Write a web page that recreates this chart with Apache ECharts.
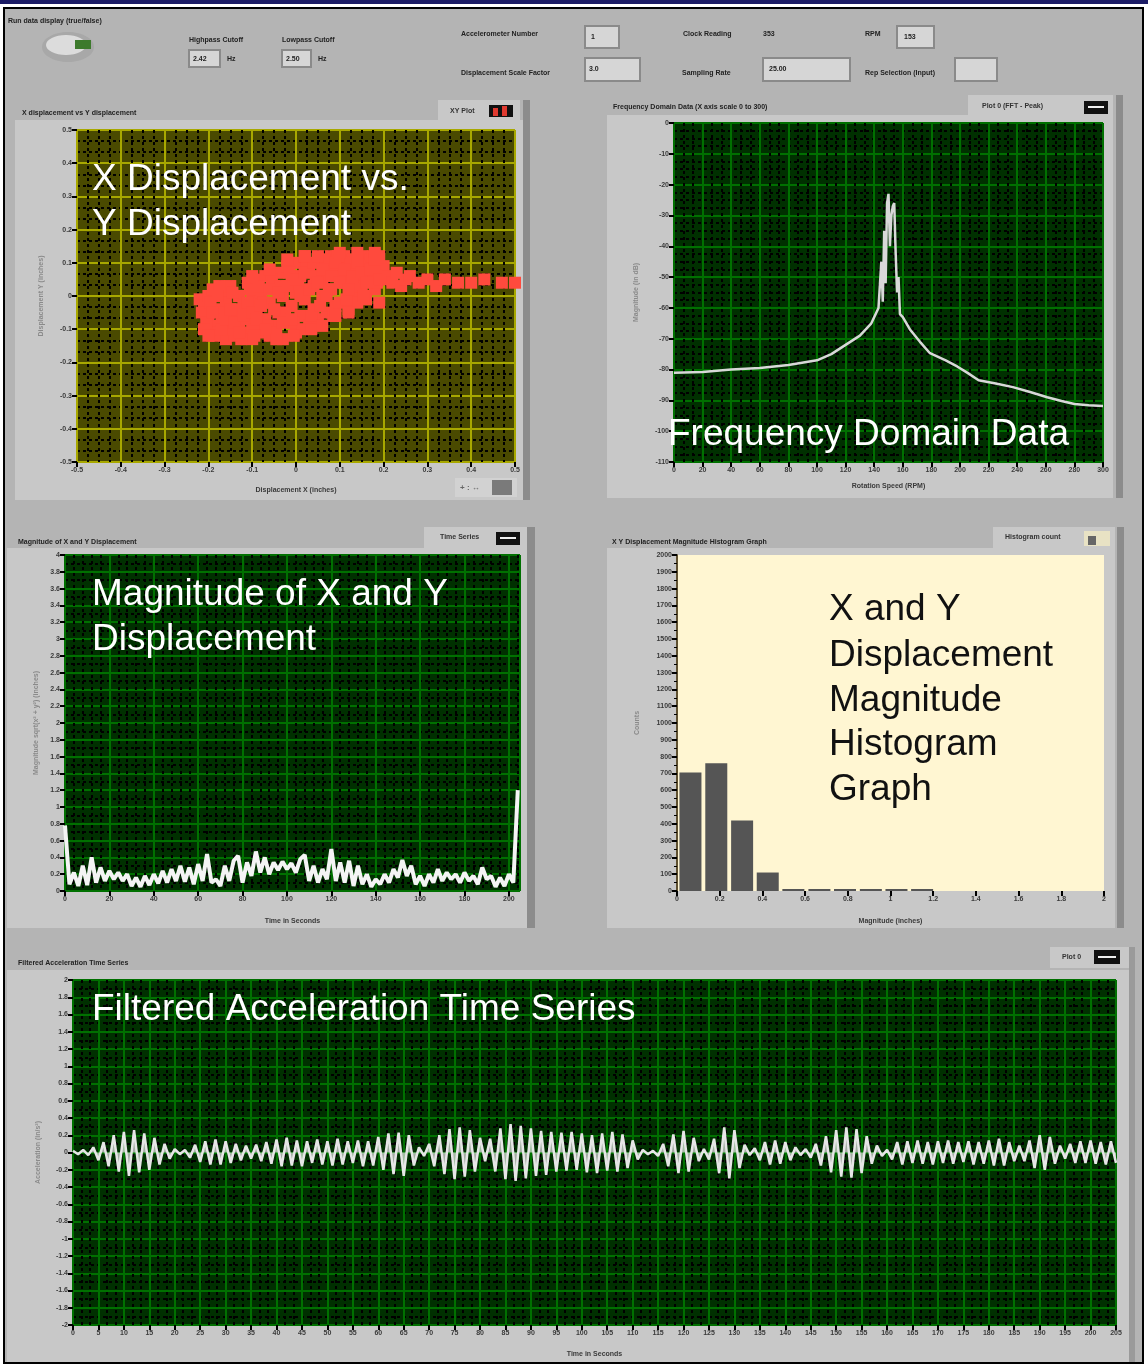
<!DOCTYPE html>
<html>
<head>
<meta charset="utf-8">
<script src="https://cdn.jsdelivr.net/npm/echarts@6/dist/echarts.min.js"></script>
<style>
html, body { margin: 0; padding: 0; background: #fff; }
#chart { width: 1148px; height: 1372px; }
</style>
</head>
<body>
<div id="chart"></div>
<script>
var FONT = '"Liberation Sans", Arial, sans-serif'

// X vs Y displacement (inches)
var xyPoints = [
  [-0.22, -0.01], [-0.21, -0.03], [-0.2, 0.0], [-0.2, -0.06], [-0.19, -0.09], [-0.19, 0.02], [-0.18, -0.04], [-0.18, -0.11],
  [-0.17, -0.07], [-0.17, 0.01], [-0.16, -0.13], [-0.16, -0.02], [-0.15, -0.09], [-0.15, 0.03], [-0.14, -0.05], [-0.14, -0.12],
  [-0.13, 0.0], [-0.13, -0.08], [-0.12, -0.03], [-0.12, -0.11], [-0.11, 0.04], [-0.11, -0.06], [-0.1, -0.13], [-0.1, -0.01],
  [-0.1, -0.09], [-0.09, 0.05], [-0.09, -0.04], [-0.08, -0.11], [-0.08, 0.01], [-0.07, -0.07], [-0.07, 0.06], [-0.06, -0.02],
  [-0.06, -0.12], [-0.05, 0.03], [-0.05, -0.09], [-0.04, 0.07], [-0.04, -0.05], [-0.03, -0.13], [-0.03, 0.0], [-0.02, 0.09],
  [-0.02, -0.08], [-0.01, 0.04], [-0.01, -0.03], [0.0, -0.11], [0.0, 0.1], [0.0, 0.01], [0.01, -0.06], [0.01, 0.06],
  [0.02, 0.12], [0.02, -0.01], [0.03, -0.09], [0.03, 0.08], [0.04, 0.03], [0.04, -0.04], [0.05, 0.11], [0.05, -0.07],
  [0.06, 0.05], [0.06, 0.0], [0.07, 0.09], [0.07, -0.05], [0.08, 0.12], [0.08, 0.02], [0.09, -0.03], [0.09, 0.07],
  [0.1, 0.1], [0.1, -0.02], [0.11, 0.04], [0.11, 0.12], [0.12, -0.04], [0.12, 0.08], [0.13, 0.01], [0.13, 0.11],
  [0.14, 0.06], [0.14, -0.02], [0.15, 0.12], [0.15, 0.03], [0.16, 0.09], [0.16, -0.01], [0.17, 0.05], [0.17, 0.11],
  [0.18, 0.02], [0.18, 0.08], [0.19, 0.12], [0.19, -0.02], [0.2, 0.05], [0.2, 0.09],
  [-0.215, -0.05], [-0.205, -0.08], [-0.195, -0.02], [-0.185, -0.12], [-0.175, 0.03], [-0.165, -0.05], [-0.155, -0.1],
  [-0.145, 0.01], [-0.135, -0.04], [-0.125, -0.13], [-0.115, -0.07], [-0.105, 0.02], [-0.095, -0.1], [-0.085, 0.03],
  [-0.075, -0.02], [-0.065, -0.09], [-0.055, 0.05], [-0.045, -0.11], [-0.035, 0.03], [-0.025, -0.05], [-0.015, 0.07],
  [-0.005, -0.08], [0.005, 0.03], [0.015, -0.1], [0.025, 0.09], [0.035, -0.06], [0.045, 0.06], [0.055, -0.03],
  [0.065, 0.11], [0.075, 0.02], [0.085, -0.06], [0.095, 0.12], [0.105, 0.06], [0.115, -0.01], [0.125, 0.1],
  [0.135, 0.03], [0.145, 0.09], [0.155, 0.0], [0.165, 0.07], [0.175, 0.12], [0.185, 0.04], [0.195, 0.08],
  [-0.21, -0.1], [-0.2, -0.12], [-0.19, -0.05], [-0.18, 0.0], [-0.17, -0.1], [-0.16, -0.07], [-0.15, -0.04],
  [-0.14, -0.08], [-0.13, -0.11], [-0.12, -0.06], [-0.11, -0.02], [-0.1, -0.05], [-0.09, -0.07], [-0.08, -0.03],
  [-0.07, -0.1], [-0.06, 0.02], [-0.05, -0.04], [-0.04, 0.01], [-0.03, -0.08], [-0.02, 0.03], [-0.01, -0.07],
  [0.0, 0.05], [0.01, 0.0], [0.02, 0.07], [0.03, 0.02], [0.04, 0.1], [0.05, 0.04], [0.06, 0.08], [0.07, 0.0],
  [0.08, 0.06], [0.09, 0.1], [0.1, 0.04], [0.11, 0.08], [0.12, 0.02], [0.13, 0.06], [0.14, 0.1], [0.15, 0.07],
  [0.16, 0.04], [0.17, 0.08], [0.18, 0.11], [0.19, 0.05], [-0.095, -0.12], [-0.045, -0.13], [-0.005, -0.12],
  [0.035, -0.1], [0.06, -0.09], [0.09, -0.06], [0.12, -0.05], [-0.1, 0.06], [-0.06, 0.08], [-0.02, 0.11],
  [0.02, 0.12], [0.05, 0.12], [0.1, 0.13], [0.14, 0.13], [0.18, 0.13],
  [0.21, 0.06], [0.22, 0.04], [0.23, 0.07], [0.24, 0.03], [0.25, 0.05], [0.26, 0.06], [0.28, 0.04], [0.3, 0.05],
  [0.32, 0.03], [0.34, 0.05], [0.37, 0.04], [0.4, 0.04], [0.43, 0.05], [0.47, 0.04], [0.5, 0.04]
]

// frequency domain data
var freqRpm = [0, 20, 40, 60, 80, 100, 110, 120, 130, 138,
  143, 144, 145, 146, 147, 148, 149, 150, 151, 152,
  153, 154, 155, 156, 157, 158, 160, 165, 172, 179,
  190, 198, 205, 213, 225, 237, 249, 261, 271, 280, 290, 300]
var freqDb = [-81, -80.8, -80, -79.5, -78.5, -77, -75, -72, -69, -65,
  -60, -60, -45, -58, -35, -52, -26, -23, -40, -30,
  -27, -26, -42, -55, -50, -62, -63, -67, -71, -74.7,
  -77, -79, -81, -83.5, -84.5, -85.7, -87.3, -89, -90.2, -91.2, -91.6, -91.8]

// magnitude of X and Y displacement, one value every 2 s
var magStep = 2
var magDisp = [
  0.78, 0.08, 0.22, 0.06, 0.30, 0.07, 0.40, 0.10, 0.28, 0.12,
  0.24, 0.14, 0.22, 0.12, 0.20, 0.06, 0.16, 0.05, 0.18, 0.07,
  0.20, 0.09, 0.24, 0.10, 0.26, 0.12, 0.30, 0.11, 0.28, 0.08,
  0.32, 0.12, 0.44, 0.10, 0.14, 0.06, 0.30, 0.12, 0.36, 0.42,
  0.10, 0.34, 0.18, 0.47, 0.22, 0.40, 0.20, 0.34, 0.25, 0.35,
  0.26, 0.33, 0.22, 0.38, 0.43, 0.12, 0.30, 0.10, 0.26, 0.14,
  0.50, 0.12, 0.34, 0.10, 0.36, 0.06, 0.30, 0.08, 0.20, 0.05,
  0.14, 0.08, 0.20, 0.10, 0.26, 0.16, 0.37, 0.18, 0.30, 0.08,
  0.18, 0.06, 0.20, 0.10, 0.26, 0.12, 0.22, 0.14, 0.20, 0.10,
  0.22, 0.12, 0.18, 0.08, 0.28, 0.14, 0.18, 0.05, 0.16, 0.06,
  0.20, 0.10, 1.20
]

// histogram of magnitude
var histBins = [0.063, 0.184, 0.305, 0.425, 0.545, 0.667, 0.787, 0.908, 1.028, 1.148]
var histCounts = [706, 760, 420, 110, 12, 12, 12, 12, 12, 12]

// filtered acceleration, one value per second
var accel = [
  0.02, -0.02, 0.03, -0.03, 0.06, -0.09, 0.12, -0.16, 0.20, -0.22,
  0.24, -0.27, 0.26, -0.23, 0.22, -0.20, 0.17, -0.14, 0.10, -0.07,
  0.04, -0.02, 0.03, -0.06, 0.09, -0.11, 0.13, -0.14, 0.15, -0.14,
  0.13, -0.12, 0.10, -0.09, 0.08, -0.07, 0.09, -0.10, 0.12, -0.13,
  0.15, -0.16, 0.17, -0.15, 0.14, -0.16, 0.13, -0.12, 0.15, -0.14,
  0.13, -0.15, 0.16, -0.14, 0.13, -0.12, 0.14, -0.16, 0.13, -0.15,
  0.18, -0.20, 0.22, -0.25, 0.23, -0.27, 0.20, -0.15, 0.06, -0.04,
  0.10, -0.16, 0.20, -0.25, 0.27, -0.31, 0.29, -0.28, 0.26, -0.22,
  0.17, -0.10, 0.16, -0.22, 0.28, -0.31, 0.33, -0.33, 0.31, -0.30,
  0.28, -0.27, 0.25, -0.26, 0.24, -0.22, 0.23, -0.21, 0.24, -0.20,
  0.22, -0.23, 0.20, -0.24, 0.22, -0.21, 0.24, -0.22, 0.21, -0.18,
  0.14, -0.08, 0.03, -0.02, 0.02, -0.04, 0.10, -0.16, 0.21, -0.24,
  0.25, -0.22, 0.17, -0.10, 0.04, -0.08, 0.16, -0.24, 0.29, -0.30,
  0.26, -0.18, 0.09, -0.03, 0.05, -0.09, 0.12, -0.14, 0.14, -0.13,
  0.12, -0.09, 0.06, -0.03, 0.04, -0.06, 0.10, -0.15, 0.19, -0.23,
  0.26, -0.28, 0.29, -0.29, 0.27, -0.24, 0.19, -0.13, 0.08, -0.04,
  0.03, -0.08, 0.12, -0.14, 0.13, -0.12, 0.14, -0.13, 0.12, -0.14,
  0.13, -0.12, 0.14, -0.13, 0.12, -0.11, 0.13, -0.14, 0.12, -0.13,
  0.14, -0.15, 0.16, -0.15, 0.12, -0.10, 0.08, -0.10, 0.14, -0.18,
  0.20, -0.20, 0.18, -0.13, 0.08, -0.07, 0.10, -0.12, 0.13, -0.12,
  0.14, -0.13, 0.12, -0.14, 0.13, -0.12
]

function axis(o) {
  return {
    type: 'value', gridIndex: o.grid, min: o.min, max: o.max, interval: o.interval,
    name: o.name, nameLocation: 'middle', nameGap: o.gap,
    nameTextStyle: { color: o.nameColor || '#3a3a3a', fontSize: 7, fontWeight: 'bold', fontFamily: FONT },
    axisLine: { show: !!o.line, onZero: false, lineStyle: { color: o.line || '#000', width: 2 } },
    axisTick: { show: true, length: 5, lineStyle: { color: '#000', width: 2 } },
    minorTick: { show: !!o.minorTick, splitNumber: o.minor || 2, length: 3, lineStyle: { color: '#000', width: 1 } },
    axisLabel: {
      color: '#3a3a3a', fontSize: 7, fontWeight: 'bold', fontFamily: FONT, margin: 5,
      formatter: function (v) { return String(Math.round(v * 100) / 100) }
    },
    splitLine: { show: !!o.major, lineStyle: { color: o.major, width: 2 } },
    minorSplitLine: { show: !!o.dots, lineStyle: { color: '#000', width: 2, type: [3, 3] } }
  }
}

function box(x, y, w, h, fill, stroke, z) {
  return {
    type: 'rect', silent: true, z: z == null ? -10 : z,
    shape: { x: x, y: y, width: w, height: h },
    style: { fill: fill, stroke: stroke || null, lineWidth: stroke ? 2 : 0 }
  }
}

function txt(x, y, str, size, color, weight, z) {
  return {
    type: 'text', silent: true, z: z == null ? 5 : z, x: x, y: y,
    style: {
      text: str, fill: color, font: (weight || 'bold') + ' ' + size + 'px ' + FONT,
      textAlign: 'left', textVerticalAlign: 'middle', verticalAlign: 'middle'
    }
  }
}

function big(x, y, str, color) {
  return txt(x, y, str, 37, color, 'normal', 100)
}

var graphics = [
  box(0, 0, 1148, 1372, '#ffffff', null, -30),
  box(0, 0, 1148, 4, '#1c1c66', null, -20),
  box(4, 8, 1139, 1355, '#b4b4b4', '#000000', -20),

  // top controls
  txt(8, 21, 'Run data display (true/false)', 7, '#222'),
  { type: 'ellipse', silent: true, z: -5, shape: { cx: 68, cy: 47, rx: 26, ry: 15 }, style: { fill: '#a8a8a8' } },
  { type: 'ellipse', silent: true, z: -4, shape: { cx: 66, cy: 45, rx: 20, ry: 10 }, style: { fill: '#dcdcdc' } },
  box(75, 40, 16, 9, '#3d7a2c', null, -3),
  txt(189, 40, 'Highpass Cutoff', 7, '#222'),
  box(189, 50, 31, 17, '#d6d6d6', '#8a8a8a', -5), txt(193, 59, '2.42', 7, '#222'), txt(227, 59, 'Hz', 7, '#222'),
  txt(282, 40, 'Lowpass Cutoff', 7, '#222'),
  box(282, 50, 29, 17, '#d6d6d6', '#8a8a8a', -5), txt(286, 59, '2.50', 7, '#222'), txt(318, 59, 'Hz', 7, '#222'),
  txt(461, 34, 'Accelerometer Number', 7, '#222'),
  box(585, 26, 34, 22, '#d6d6d6', '#8a8a8a', -5), txt(591, 37, '1', 7, '#222'),
  txt(683, 34, 'Clock Reading', 7, '#222'), txt(763, 34, '353', 7, '#222'),
  txt(865, 34, 'RPM', 7, '#222'),
  box(897, 26, 37, 22, '#d6d6d6', '#8a8a8a', -5), txt(904, 37, '153', 7, '#222'),
  txt(461, 73, 'Displacement Scale Factor', 7, '#222'),
  box(585, 58, 55, 23, '#d6d6d6', '#8a8a8a', -5), txt(589, 69, '3.0', 7, '#222'),
  txt(682, 73, 'Sampling Rate', 7, '#222'),
  box(763, 58, 87, 23, '#d6d6d6', '#8a8a8a', -5), txt(769, 69, '25.00', 7, '#222'),
  txt(865, 73, 'Rep Selection (Input)', 7, '#222'),
  box(955, 58, 42, 23, '#d6d6d6', '#8a8a8a', -5),

  // panel 1 frame
  txt(22, 113, 'X displacement vs Y displacement', 7, '#222'),
  box(15, 120, 508, 380, '#c8c8c8'),
  box(438, 100, 82, 22, '#c8c8c8'),
  box(523, 100, 7, 400, '#8c8c8c'),
  txt(450, 111, 'XY Plot', 7, '#333'),
  box(489, 105, 24, 12, '#111', null, -5), box(493, 108, 5, 8, '#e03a30', null, -4), box(502, 106, 5, 10, '#e03a30', null, -4),
  box(455, 478, 62, 19, '#d2d2d2', null, -5), txt(460, 488, '+ : ↔', 8, '#666'), box(492, 480, 20, 15, '#7a7a7a', null, -4),

  // panel 2 frame
  txt(613, 107, 'Frequency Domain Data (X axis scale 0 to 300)', 7, '#222'),
  box(607, 115, 506, 383, '#c8c8c8'),
  box(968, 95, 145, 22, '#c8c8c8'),
  box(1116, 95, 7, 403, '#8c8c8c'),
  txt(982, 106, 'Plot 0 (FFT - Peak)', 7, '#333'),
  box(1084, 101, 24, 13, '#111', null, -5), box(1088, 106, 16, 2, '#eee', null, -4),

  // panel 3 frame
  txt(18, 542, 'Magnitude of X and Y Displacement', 7, '#222'),
  box(7, 548, 520, 380, '#c8c8c8'),
  box(424, 527, 103, 21, '#c8c8c8'),
  box(527, 527, 8, 401, '#8c8c8c'),
  txt(440, 537, 'Time Series', 7, '#333'),
  box(496, 532, 24, 13, '#111', null, -5), box(500, 537, 16, 2, '#eee', null, -4),

  // panel 4 frame
  txt(612, 542, 'X Y Displacement Magnitude Histogram Graph', 7, '#222'),
  box(607, 548, 508, 380, '#c8c8c8'),
  box(993, 527, 122, 21, '#c8c8c8'),
  box(1117, 527, 7, 401, '#8c8c8c'),
  txt(1005, 537, 'Histogram count', 7, '#333'),
  box(1084, 531, 26, 15, '#e8e2c4', null, -5), box(1088, 536, 8, 9, '#666', null, -4),

  // panel 5 frame
  txt(18, 963, 'Filtered Acceleration Time Series', 7, '#222'),
  box(7, 970, 1122, 392, '#c8c8c8'),
  box(1050, 947, 79, 21, '#c8c8c8'),
  box(1129, 947, 6, 415, '#9a9a9a'),
  txt(1062, 957, 'Plot 0', 7, '#333'),
  box(1094, 950, 26, 14, '#111', null, -5), box(1098, 956, 18, 2, '#eee', null, -4),

  // overlay captions
  big(92, 180, 'X Displacement vs.', '#ffffff'),
  big(92, 225, 'Y Displacement', '#ffffff'),
  big(668, 435, 'Frequency Domain Data', '#ffffff'),
  big(92, 595, 'Magnitude of X and Y', '#ffffff'),
  big(92, 640, 'Displacement', '#ffffff'),
  big(829, 610, 'X and Y', '#111111'),
  big(829, 656, 'Displacement', '#111111'),
  big(829, 701, 'Magnitude', '#111111'),
  big(829, 745, 'Histogram', '#111111'),
  big(829, 790, 'Graph', '#111111'),
  big(92, 1010, 'Filtered Acceleration Time Series', '#ffffff')
]

var option = {
  animation: false,
  backgroundColor: '#ffffff',
  graphic: graphics,
  grid: [
    { left: 77, top: 130, width: 438, height: 332, show: true, backgroundColor: '#4a4a00', borderWidth: 0 },
    { left: 674, top: 123, width: 429, height: 339, show: true, backgroundColor: '#003000', borderWidth: 0 },
    { left: 65, top: 555, width: 455, height: 336, show: true, backgroundColor: '#003000', borderWidth: 0 },
    { left: 677, top: 555, width: 427, height: 336, show: true, backgroundColor: '#fff6d2', borderWidth: 0 },
    { left: 73, top: 980, width: 1043, height: 345, show: true, backgroundColor: '#003000', borderWidth: 0 }
  ],
  xAxis: [
    axis({ grid: 0, min: -0.5, max: 0.5, interval: 0.1, name: 'Displacement X (inches)', gap: 25, major: '#a8a800', dots: true, minor: 4 }),
    axis({ grid: 1, min: 0, max: 300, interval: 20, name: 'Rotation Speed (RPM)', gap: 21, major: '#007000', dots: true, minor: 3 }),
    axis({ grid: 2, min: 0, max: 205, interval: 20, name: 'Time in Seconds', gap: 27, major: '#007000', dots: true, minor: 5 }),
    axis({ grid: 3, min: 0, max: 2, interval: 0.2, name: 'Magnitude (inches)', gap: 27 }),
    axis({ grid: 4, min: 0, max: 205, interval: 5, name: 'Time in Seconds', gap: 26, major: '#007000', dots: true, minor: 3 })
  ],
  yAxis: [
    axis({ grid: 0, min: -0.5, max: 0.5, interval: 0.1, name: 'Displacement Y (inches)', gap: 32, nameColor: '#8a8a8a', major: '#a8a800', dots: true, minor: 3 }),
    axis({ grid: 1, min: -110, max: 0, interval: 10, name: 'Magnitude (in dB)', gap: 34, nameColor: '#8a8a8a', major: '#007000', dots: true, minor: 4 }),
    axis({ grid: 2, min: 0, max: 4, interval: 0.2, name: 'Magnitude sqrt(x² + y²) (inches)', gap: 25, nameColor: '#8a8a8a', major: '#007000', dots: true, minor: 2 }),
    axis({ grid: 3, min: 0, max: 2000, interval: 100, name: 'Counts', gap: 36, nameColor: '#8a8a8a', line: '#5e5030', minorTick: true, minor: 2 }),
    axis({ grid: 4, min: -2, max: 2, interval: 0.2, name: 'Acceleration (in/s²)', gap: 31, nameColor: '#8a8a8a', major: '#007000', dots: true, minor: 2 })
  ],
  series: [
    {
      type: 'scatter', xAxisIndex: 0, yAxisIndex: 0, symbol: 'rect', symbolSize: 12,
      itemStyle: { color: '#ff4a3d', opacity: 1 }, data: xyPoints
    },
    {
      type: 'line', xAxisIndex: 1, yAxisIndex: 1, showSymbol: false,
      lineStyle: { color: '#d8d8d8', width: 2.5 },
      data: freqRpm.map(function (r, i) { return [r, freqDb[i]] })
    },
    {
      type: 'line', xAxisIndex: 2, yAxisIndex: 2, showSymbol: false,
      lineStyle: { color: '#f4f4f4', width: 4 },
      data: magDisp.map(function (v, i) { return [i * magStep, v] })
    },
    {
      type: 'bar', xAxisIndex: 3, yAxisIndex: 3, barWidth: 22,
      itemStyle: { color: '#555555' },
      data: histBins.map(function (b, i) { return [b, histCounts[i]] })
    },
    {
      type: 'line', xAxisIndex: 4, yAxisIndex: 4, showSymbol: false,
      lineStyle: { color: '#e6e6e6', width: 2.5 },
      areaStyle: { color: '#d8d8d8', opacity: 0.75, origin: 0 },
      data: accel.map(function (v, i) { return [i, v] })
    }
  ]
}

var myChart = echarts.init(document.getElementById('chart'))
myChart.setOption(option)
</script>
</body>
</html>
